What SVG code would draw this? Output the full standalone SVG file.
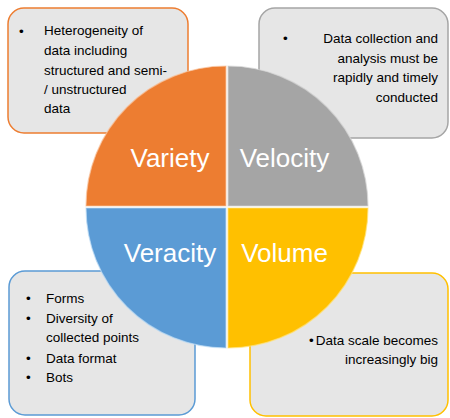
<svg xmlns="http://www.w3.org/2000/svg" width="450" height="418" viewBox="0 0 450 418">
<style>
.box{fill:#E6E6E6;stroke-width:1.5}
.t{font-family:"Liberation Sans",Arial,sans-serif;font-size:13.5px;fill:#000}
.r{text-anchor:end}
.lbl{font-family:"Liberation Sans",Arial,sans-serif;font-size:26px;fill:#fff;text-anchor:middle}
.q{stroke-width:1.2;stroke-opacity:0.7}
</style>
<rect width="450" height="418" fill="#fff"/>
<g id="box-variety">
<rect class="box" x="8" y="8" width="180" height="125" rx="16" stroke="#ED7D31"/>
<text class="t" x="19" y="36">•</text>
<text class="t" x="44" y="35">Heterogeneity of</text>
<text class="t" x="44" y="55">data including</text>
<text class="t" x="44" y="75">structured and semi-</text>
<text class="t" x="44" y="94">/ unstructured</text>
<text class="t" x="44" y="113">data</text>
</g>
<g id="box-velocity">
<rect class="box" x="259" y="8" width="189" height="130" rx="16" stroke="#A5A5A5"/>
<text class="t" x="283" y="43">•</text>
<text class="t r" x="438" y="43">Data collection and</text>
<text class="t r" x="438" y="62.5">analysis must be</text>
<text class="t r" x="438" y="82">rapidly and timely</text>
<text class="t r" x="438" y="101.5">conducted</text>
</g>
<g id="box-veracity">
<rect class="box" x="9" y="271" width="186" height="144" rx="16" stroke="#5B9BD5"/>
<text class="t" x="26" y="303">•</text>
<text class="t" x="46" y="303">Forms</text>
<text class="t" x="26" y="323">•</text>
<text class="t" x="46" y="323">Diversity of</text>
<text class="t" x="46" y="342">collected points</text>
<text class="t" x="26" y="363">•</text>
<text class="t" x="46" y="363">Data format</text>
<text class="t" x="26" y="382">•</text>
<text class="t" x="46" y="382">Bots</text>
</g>
<g id="box-volume">
<rect class="box" x="250" y="273" width="198" height="143" rx="16" stroke="#FFC000"/>
<text class="t" x="309" y="345">•</text>
<text class="t r" x="438" y="345">Data scale becomes</text>
<text class="t r" x="438" y="364">increasingly big</text>
</g>
<g id="variety">
<path class="q" d="M226,206 L86,206 A140,140 0 0,1 226,66 Z" fill="#ED7D31" stroke="#F8C39E"/>
<text class="lbl" x="170" y="167">Variety</text>
</g>
<g id="velocity">
<path class="q" d="M228,206 L228,66 A140,140 0 0,1 368,206 Z" fill="#A5A5A5" stroke="#D6D6D6"/>
<text class="lbl" x="284.5" y="167">Velocity</text>
</g>
<g id="veracity">
<path class="q" d="M226,208 L226,348 A140,140 0 0,1 86,208 Z" fill="#5B9BD5" stroke="#BFDDF5"/>
<text class="lbl" x="170" y="262">Veracity</text>
</g>
<g id="volume">
<path class="q" d="M228,208 L368,208 A140,140 0 0,1 228,348 Z" fill="#FFC000" stroke="#FFE27A"/>
<text class="lbl" x="284.5" y="262">Volume</text>
</g>
<g id="connectors"></g>
</svg>
